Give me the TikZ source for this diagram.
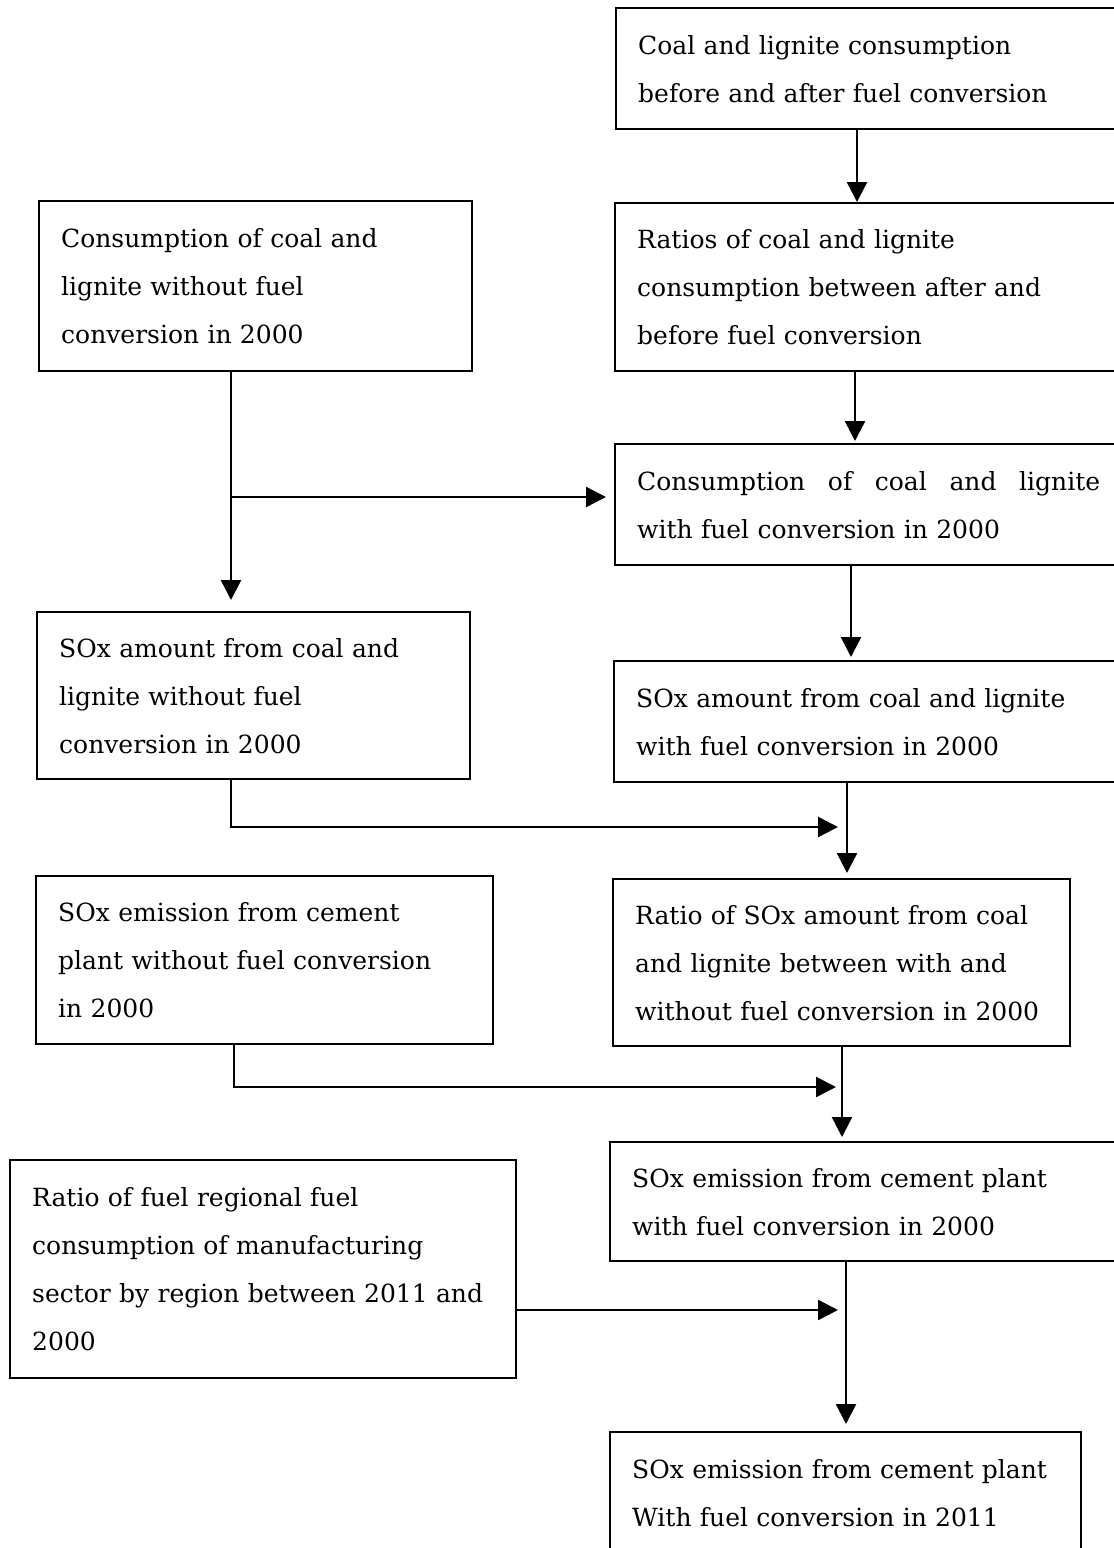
\documentclass[tikz,border=0pt]{standalone}
\usepackage{fontspec}
\setmainfont{DejaVu Serif}
\usetikzlibrary{arrows.meta,positioning}

\tikzset{
  flowbox/.style={draw, line width=1.2pt, anchor=north west, align=left,
    inner xsep=11pt, inner ysep=0pt, text width=#1,
    font=\fontsize{12.5}{24}\selectfont,
    execute at begin node=\strut, execute at end node=\strut},
  flowarrow/.style={line width=1.2pt, -{Triangle[length=10pt,width=10pt]}},
}

\begin{document}
\begin{tikzpicture}[x=0.5pt, y=-0.5pt]
			%%%%% START %%%%%
			
			\path[use as bounding box, clip] (0,0) rectangle (1114,1548);
			
			\node[flowbox=260pt, minimum height=60.5pt] (before) at (615,7)
				{Coal and lignite consumption\\before and after fuel conversion};
			\node[flowbox=260pt, minimum height=84pt] (ratios) at (614,202)
				{Ratios of coal and lignite\\consumption between after and\\before fuel conversion};
			\node[flowbox=194.5pt, minimum height=85pt] (consWo) at (38,200)
				{Consumption of coal and\\lignite without fuel\\conversion in 2000};
			\node[flowbox=260pt, minimum height=60.5pt] (consW) at (614,443)
				{\hbox to 231.5pt{Consumption\hfill of\hfill coal\hfill and\hfill lignite}\\with fuel conversion in 2000};
			
			\node[flowbox=194.5pt, minimum height=83.5pt] (soxWo) at (36,611)
				{SOx amount from coal and\\lignite without fuel\\conversion in 2000};
			\node[flowbox=260pt, minimum height=60.5pt] (soxW) at (613,660)
				{SOx amount from coal and lignite\\with fuel conversion in 2000};
			\node[flowbox=206.5pt, minimum height=84pt] (emisWo) at (35,875)
				{SOx emission from cement\\plant without fuel conversion\\in 2000};
			\node[flowbox=206.5pt, minimum height=83.5pt] (ratioSox) at (612,878)
				{Ratio of SOx amount from coal\\and lignite between with and\\without fuel conversion in 2000};
			
			\node[flowbox=260pt, minimum height=59.5pt] (emisW) at (609,1141)
				{SOx emission from cement plant\\with fuel conversion in 2000};
			\node[flowbox=231pt, minimum height=109pt] (ratioFuel) at (9,1159)
				{Ratio of fuel regional fuel\\consumption of manufacturing\\sector by region between 2011 and\\2000};
			\node[flowbox=213.5pt, minimum height=60.5pt] (final) at (609,1431)
				{SOx emission from cement plant\\With fuel conversion in 2011};
			
			% columns and joints of the connectors
			\coordinate (colA) at (857,0);
			\coordinate (colB) at (855,0);
			\coordinate (colC) at (851,0);
			\coordinate (colD) at (847,0);
			\coordinate (colE) at (842,0);
			\coordinate (colF) at (846,0);
			\coordinate (colL) at (231,0);
			\coordinate (colM) at (234,0);
			\coordinate (fork) at (231,497);
			\coordinate (join1) at (847,827);
			\coordinate (join2) at (842,1087);
			\coordinate (join3) at (846,1310);
			
			\draw[flowarrow] (before.south -| colA) -- (ratios.north -| colA);
			\draw[flowarrow, shorten >=1pt] (ratios.south -| colB) -- (consW.north -| colB);
			\draw[flowarrow, shorten >=5.5pt] (consWo.south -| colL) -- (soxWo.north -| colL);
			\draw[flowarrow, shorten >=4pt] (fork) -- (fork -| consW.west);
			\draw[flowarrow, shorten >=1.5pt] (consW.south -| colC) -- (soxW.north -| colC);
			
			\draw[flowarrow, shorten >=2.5pt] (soxW.south -| colD) -- (ratioSox.north -| colD);
			\draw[flowarrow, shorten >=4.5pt] (soxWo.south -| colL) |- (join1);
			\draw[flowarrow, shorten >=2pt] (ratioSox.south -| colE) -- (emisW.north -| colE);
			\draw[flowarrow, shorten >=3pt] (emisWo.south -| colM) |- (join2);
			
			\draw[flowarrow, shorten >=3.5pt] (emisW.south -| colF) -- (final.north -| colF);
			\draw[flowarrow, shorten >=4pt] (ratioFuel.east |- join3) -- (join3);
			
			%%%%% END %%%%%
\end{tikzpicture}
\end{document}
